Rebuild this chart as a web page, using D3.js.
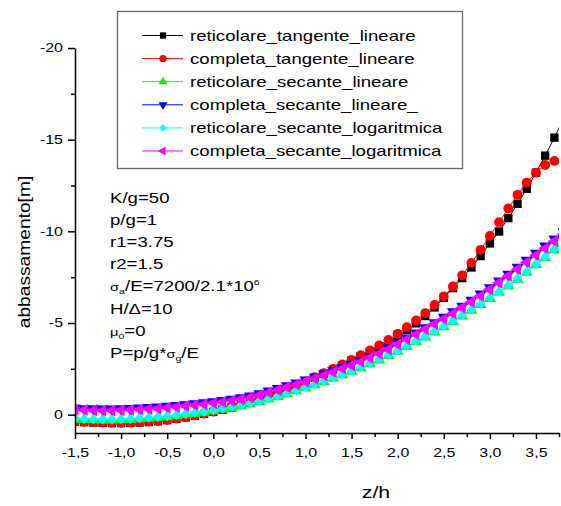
<!DOCTYPE html>
<html>
<head>
<meta charset="utf-8">
<script src="https://cdn.jsdelivr.net/npm/d3@7"></script>
<style>
  html, body { margin: 0; padding: 0; background: #fff; }
  text { font-family: "Liberation Sans", Arial, sans-serif; fill: #000; }
</style>
</head>
<body>
<div id="plot"></div>
<script>
// z/h positions of the computed points
const zValues = [-1.5,-1.4,-1.3,-1.2,-1.1,-1.0,-0.9,-0.8,-0.7,-0.6,-0.5,-0.4,-0.3,-0.2,-0.1,
  0.0,0.1,0.2,0.3,0.4,0.5,0.6,0.7,0.8,0.9,1.0,1.1,1.2,1.3,1.4,1.5,1.6,1.7,1.8,1.9,
  2.0,2.1,2.2,2.3,2.4,2.5,2.6,2.7,2.8,2.9,3.0,3.1,3.2,3.3,3.4,3.5,3.6,3.7,3.8];

// abbassamento [m] for each series
const reticolareTangenteLineare = [0.38,0.41,0.43,0.45,0.46,0.46,0.45,0.43,0.4,0.36,0.3,0.23,0.15,0.06,-0.04,
  -0.15,-0.27,-0.4,-0.54,-0.69,-0.85,-1.02,-1.2,-1.39,-1.59,
  -1.8,-2.02,-2.24,-2.47,-2.7,-2.94,-3.18,-3.44,-3.71,-3.99,
  -4.29,-4.62,-4.98,-5.38,-5.85,-6.38,-6.9,-7.45,-8.03,-8.65,
  -9.34,-9.99,-10.72,-11.5,-12.32,-13.2,-14.13,-15.11,-16.15];
const completaTangenteLineare = [0.36,0.39,0.41,0.43,0.44,0.44,0.43,0.41,0.38,0.34,0.28,0.21,0.13,0.04,-0.06,
  -0.17,-0.29,-0.42,-0.56,-0.71,-0.87,-1.04,-1.22,-1.41,-1.61,
  -1.82,-2.04,-2.27,-2.5,-2.74,-2.99,-3.24,-3.5,-3.78,-4.08,
  -4.41,-4.77,-5.14,-5.54,-5.98,-6.45,-6.99,-7.6,-8.28,-8.99,
  -9.75,-10.5,-11.25,-11.99,-12.66,-13.2,-13.62,-13.84,-13.95];
const reticolareSecanteLineare = [0.25,0.27,0.28,0.29,0.29,0.28,0.26,0.23,0.2,0.16,0.11,0.06,0.0,-0.06,-0.13,
  -0.21,-0.3,-0.39,-0.49,-0.6,-0.72,-0.85,-0.99,-1.14,-1.3,
  -1.47,-1.63,-1.8,-1.98,-2.17,-2.36,-2.56,-2.77,-2.99,-3.22,
  -3.46,-3.71,-3.97,-4.24,-4.51,-4.79,-5.08,-5.38,-5.69,-6.01,
  -6.34,-6.68,-7.03,-7.39,-7.77,-8.17,-8.57,-8.99,-9.42];
const completaSecanteLineare = [-0.35,-0.33,-0.32,-0.31,-0.31,-0.32,-0.34,-0.36,-0.39,-0.42,-0.46,-0.5,-0.55,-0.6,-0.65,
  -0.71,-0.77,-0.84,-0.92,-1.02,-1.14,-1.29,-1.43,-1.58,-1.73,
  -1.89,-2.05,-2.22,-2.4,-2.58,-2.76,-2.96,-3.17,-3.4,-3.64,
  -3.91,-4.18,-4.46,-4.74,-5.02,-5.31,-5.61,-5.92,-6.24,-6.58,
  -6.93,-7.29,-7.66,-8.04,-8.42,-8.81,-9.2,-9.59,-9.98];
const reticolareSecanteLogaritmica = [0.22,0.24,0.25,0.26,0.26,0.25,0.23,0.2,0.17,0.13,0.08,0.03,-0.03,-0.09,-0.16,
  -0.24,-0.33,-0.42,-0.52,-0.63,-0.75,-0.88,-1.02,-1.17,-1.33,
  -1.5,-1.66,-1.83,-2.01,-2.2,-2.39,-2.59,-2.8,-3.02,-3.25,
  -3.49,-3.74,-4.0,-4.27,-4.54,-4.82,-5.11,-5.41,-5.72,-6.04,
  -6.37,-6.71,-7.06,-7.42,-7.8,-8.2,-8.6,-9.02,-9.45];
const completaSecanteLogaritmica = [-0.27,-0.25,-0.24,-0.23,-0.23,-0.24,-0.26,-0.28,-0.31,-0.34,-0.38,-0.42,-0.47,-0.52,-0.57,
  -0.63,-0.69,-0.76,-0.84,-0.94,-1.06,-1.21,-1.35,-1.5,-1.65,
  -1.81,-1.97,-2.14,-2.32,-2.5,-2.68,-2.88,-3.09,-3.32,-3.56,
  -3.83,-4.1,-4.38,-4.66,-4.94,-5.22,-5.52,-5.83,-6.15,-6.48,
  -6.83,-7.19,-7.56,-7.93,-8.31,-8.7,-9.08,-9.46,-9.85];

const seriesNames = ["reticolare_tangente_lineare", "completa_tangente_lineare", "reticolare_secante_lineare",
  "completa_secante_lineare_", "reticolare_secante_logaritmica", "completa_secante_logaritmica"];
const seriesValues = [reticolareTangenteLineare, completaTangenteLineare, reticolareSecanteLineare,
  completaSecanteLineare, reticolareSecanteLogaritmica, completaSecanteLogaritmica];

const xTicks = [-1.5,-1.0,-0.5,0.0,0.5,1.0,1.5,2.0,2.5,3.0,3.5];
const xMinorTicks = [-1.25,-0.75,-0.25,0.25,0.75,1.25,1.75,2.25,2.75,3.25,3.75];
const yTicks = [-20,-15,-10,-5,0];
const yMinorTicks = [-17.5,-12.5,-7.5,-2.5];

const annotations = ["K/g=50", "p/g=1", "r1=3.75", "r2=1.5", "sigma", "H/Δ=10", "mu", "P"];

// chart dimensions
const width = 561;
const height = 506;
const marginTop = 48;
const marginRight = 2;
const marginBottom = 73;
const marginLeft = 75;
const stretch = 1.33; // the original text is drawn wide

const colors = ["#000000", "#ff0000", "#00ff00", "#0000ff", "#00ffff", "#ff00ff"];
const shapes = [
  {type: d3.symbolSquare, size: 70, rot: 0},
  {type: d3.symbolCircle, size: 76, rot: 0},
  {type: d3.symbolTriangle, size: 62, rot: 0},
  {type: d3.symbolTriangle, size: 62, rot: 180},
  {type: d3.symbolSquare, size: 50, rot: 45},
  {type: d3.symbolTriangle, size: 62, rot: -90}
];

const x = d3.scaleLinear()
  .domain([-1.5, 3.75])
  .range([marginLeft, width - marginRight]);

const y = d3.scaleLinear()
  .domain([-20, 1])
  .range([marginTop, height - marginBottom]);

const svg = d3.select("#plot")
  .append("svg")
  .attr("width", width)
  .attr("height", height)
  .attr("viewBox", [0, 0, width, height]);

svg.append("defs").append("clipPath")
  .attr("id", "clip")
  .append("rect")
  .attr("x", marginLeft)
  .attr("y", marginTop)
  .attr("width", width - marginRight - marginLeft)
  .attr("height", height - marginBottom - marginTop);

// series: lines, then markers, in legend order
const plot = svg.append("g").attr("clip-path", "url(#clip)");
const line = d3.line()
  .x((d, i) => x(zValues[i]))
  .y(d => y(d));

seriesValues.forEach((vals, k) => {
  plot.append("path")
    .attr("fill", "none")
    .attr("stroke", colors[k])
    .attr("stroke-width", 1)
    .attr("d", line(vals));
  plot.append("g")
    .selectAll("path")
    .data(vals)
    .join("path")
    .attr("transform", (d, i) => `translate(${x(zValues[i])},${y(d)}) rotate(${shapes[k].rot})`)
    .attr("d", d3.symbol(shapes[k].type, shapes[k].size))
    .attr("fill", colors[k]);
});

// axes
const xAxis = svg.append("g")
  .attr("transform", `translate(0,${height - marginBottom})`)
  .call(d3.axisBottom(x).tickValues(xTicks).tickSize(6).tickSizeOuter(0)
    .tickFormat(d => d.toFixed(1).replace(".", ",")));
xAxis.append("g")
  .call(d3.axisBottom(x).tickValues(xMinorTicks).tickSize(4).tickFormat(""))
  .call(g => g.select(".domain").remove());
xAxis.selectAll("text")
  .attr("y", 15)
  .attr("transform", `scale(${stretch},1)`)
  .style("font-size", "12px")
  .attr("fill", "#000");

const yAxis = svg.append("g")
  .attr("transform", `translate(${marginLeft},0)`)
  .call(d3.axisLeft(y).tickValues(yTicks).tickSize(7).tickSizeOuter(0).tickFormat(d => String(d)));
yAxis.append("g")
  .call(d3.axisLeft(y).tickValues(yMinorTicks).tickSize(4).tickFormat(""))
  .call(g => g.select(".domain").remove());
yAxis.selectAll("text")
  .attr("x", -12 / stretch)
  .attr("transform", `scale(${stretch},1)`)
  .style("font-size", "12px")
  .attr("fill", "#000");

svg.selectAll(".domain, .tick line")
  .attr("stroke", "#000")
  .attr("stroke-width", 1.5);

// axis titles
svg.append("text")
  .attr("transform", `translate(30,252) rotate(-90) scale(1.2,1)`)
  .attr("text-anchor", "middle")
  .style("font-size", "16px")
  .text("abbassamento[m]");

svg.append("text")
  .attr("transform", `translate(376,498) scale(${stretch},1)`)
  .attr("text-anchor", "middle")
  .style("font-size", "16px")
  .text("z/h");

// legend
const legend = svg.append("g");
legend.append("rect")
  .attr("x", 117.5)
  .attr("y", 11.5)
  .attr("width", 345)
  .attr("height", 157)
  .attr("fill", "#fff")
  .attr("stroke", "#666")
  .attr("stroke-width", 1.3);

seriesNames.forEach((name, k) => {
  const cy = 35.5 + k * 23.1;
  legend.append("line")
    .attr("x1", 142).attr("x2", 183)
    .attr("y1", cy).attr("y2", cy)
    .attr("stroke", colors[k])
    .attr("stroke-width", 1);
  legend.append("path")
    .attr("transform", `translate(163,${cy}) rotate(${shapes[k].rot})`)
    .attr("d", d3.symbol(shapes[k].type, shapes[k].size * 0.56))
    .attr("fill", colors[k]);
  legend.append("text")
    .attr("transform", `translate(190,${cy + 5}) scale(${stretch},1)`)
    .style("font-size", "14px")
    .text(name);
});

// parameter notes
const notes = svg.append("g");
annotations.forEach((a, k) => {
  const t = notes.append("text")
    .attr("transform", `translate(110,${203 + k * 22.1}) scale(${stretch},1)`)
    .style("font-size", "14px");
  if (a === "sigma") {
    t.append("tspan").style("font-size", "11px").text("σ");
    t.append("tspan").style("font-size", "8px").attr("dy", 3).text("a");
    t.append("tspan").attr("dy", -3).text("/E=7200/2.1*10");
    t.append("tspan").style("font-size", "8px").attr("dy", -6).text("6");
  } else if (a === "mu") {
    t.append("tspan").style("font-size", "11px").text("μ");
    t.append("tspan").style("font-size", "8px").attr("dy", 3).text("0");
    t.append("tspan").attr("dy", -3).text("=0");
  } else if (a === "P") {
    t.append("tspan").text("P=p/g*");
    t.append("tspan").style("font-size", "11px").text("σ");
    t.append("tspan").style("font-size", "8px").attr("dy", 3).text("g");
    t.append("tspan").attr("dy", -3).text("/E");
  } else {
    t.text(a);
  }
});
</script>
</body>
</html>
